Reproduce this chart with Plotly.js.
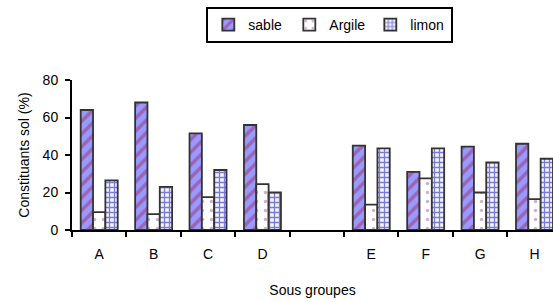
<!DOCTYPE html>
<html><head><meta charset="utf-8">
<script src="https://cdn.plot.ly/plotly-3.0.1.min.js"></script>
<style>html,body{margin:0;padding:0;background:#fff}#c{width:553px;height:302px}</style>
</head><body><div id="c"></div>
<script>
const categories = ['A','B','C','D','E','F','G','H'];
const axisOrder = ['A','B','C','D',' ','E','F','G','H'];
const sable  = [64, 68, 51.5, 56, 45, 31, 44.5, 46];
const argile = [9.5, 8.5, 17.5, 24.5, 13.5, 27.5, 20, 16.5];
const limon  = [26.5, 23, 32, 20, 43.5, 43.5, 36, 38];
const yTicks = [0, 20, 40, 60, 80];

const line = {color:'#333333', width:1.8};
const traces = [
  {type:'bar', name:'sable', x:categories, y:sable,
   marker:{color:'#9999ff', line:line,
     pattern:{shape:'/', bgcolor:'#9999ff', fgcolor:'#993366', size:9, solidity:0.4, fillmode:'overlay'}}},
  {type:'bar', name:'Argile', x:categories, y:argile,
   marker:{color:'#ffffff', line:line,
     pattern:{shape:'.', bgcolor:'#ffffff', fgcolor:'#996699', size:9, solidity:0.12, fillmode:'overlay'}}},
  {type:'bar', name:'limon', x:categories, y:limon,
   marker:{color:'#eeeeff', line:line,
     pattern:{shape:'+', bgcolor:'#f4f4ff', fgcolor:'#0000b0', size:5, solidity:0.45, fillmode:'overlay'}}}
];
const layout = {
  width:553, height:302,
  margin:{l:72, r:0, t:80, b:72},
  paper_bgcolor:'#fff', plot_bgcolor:'#fff',
  font:{family:'Liberation Sans, Arial, sans-serif', size:14, color:'#000'},
  barmode:'group', bargap:0.32, bargroupgap:0,
  showlegend:true,
  legend:{orientation:'h', x:0.536, xanchor:'center', y:1.487, yanchor:'top',
    bordercolor:'#000', borderwidth:2, font:{size:14}, itemwidth:30,
    entrywidth:36, entrywidthmode:'pixels', tracegroupgap:0},
  xaxis:{type:'category', categoryorder:'array', categoryarray:axisOrder,
    range:[-0.5, 8.34], showline:true, linecolor:'#000', linewidth:2,
    ticks:'outside', tickson:'boundaries', ticklen:5, tickwidth:2, tickcolor:'#000',
    ticklabelstandoff:10, tickfont:{size:14},
    showgrid:false, zeroline:false,
    title:{text:'Sous groupes', font:{size:14}, standoff:24}},
  yaxis:{range:[0,80], tickvals:yTicks, showline:true, linecolor:'#000', linewidth:2,
    ticks:'outside', ticklen:5, tickwidth:2, tickcolor:'#000',
    ticklabelstandoff:4, tickfont:{size:14},
    showgrid:false, zeroline:false,
    title:{text:'Constituants sol (%)', font:{size:14}, standoff:10}}
};
Plotly.newPlot('c', traces, layout, {displayModeBar:false, staticPlot:true});
</script></body></html>
